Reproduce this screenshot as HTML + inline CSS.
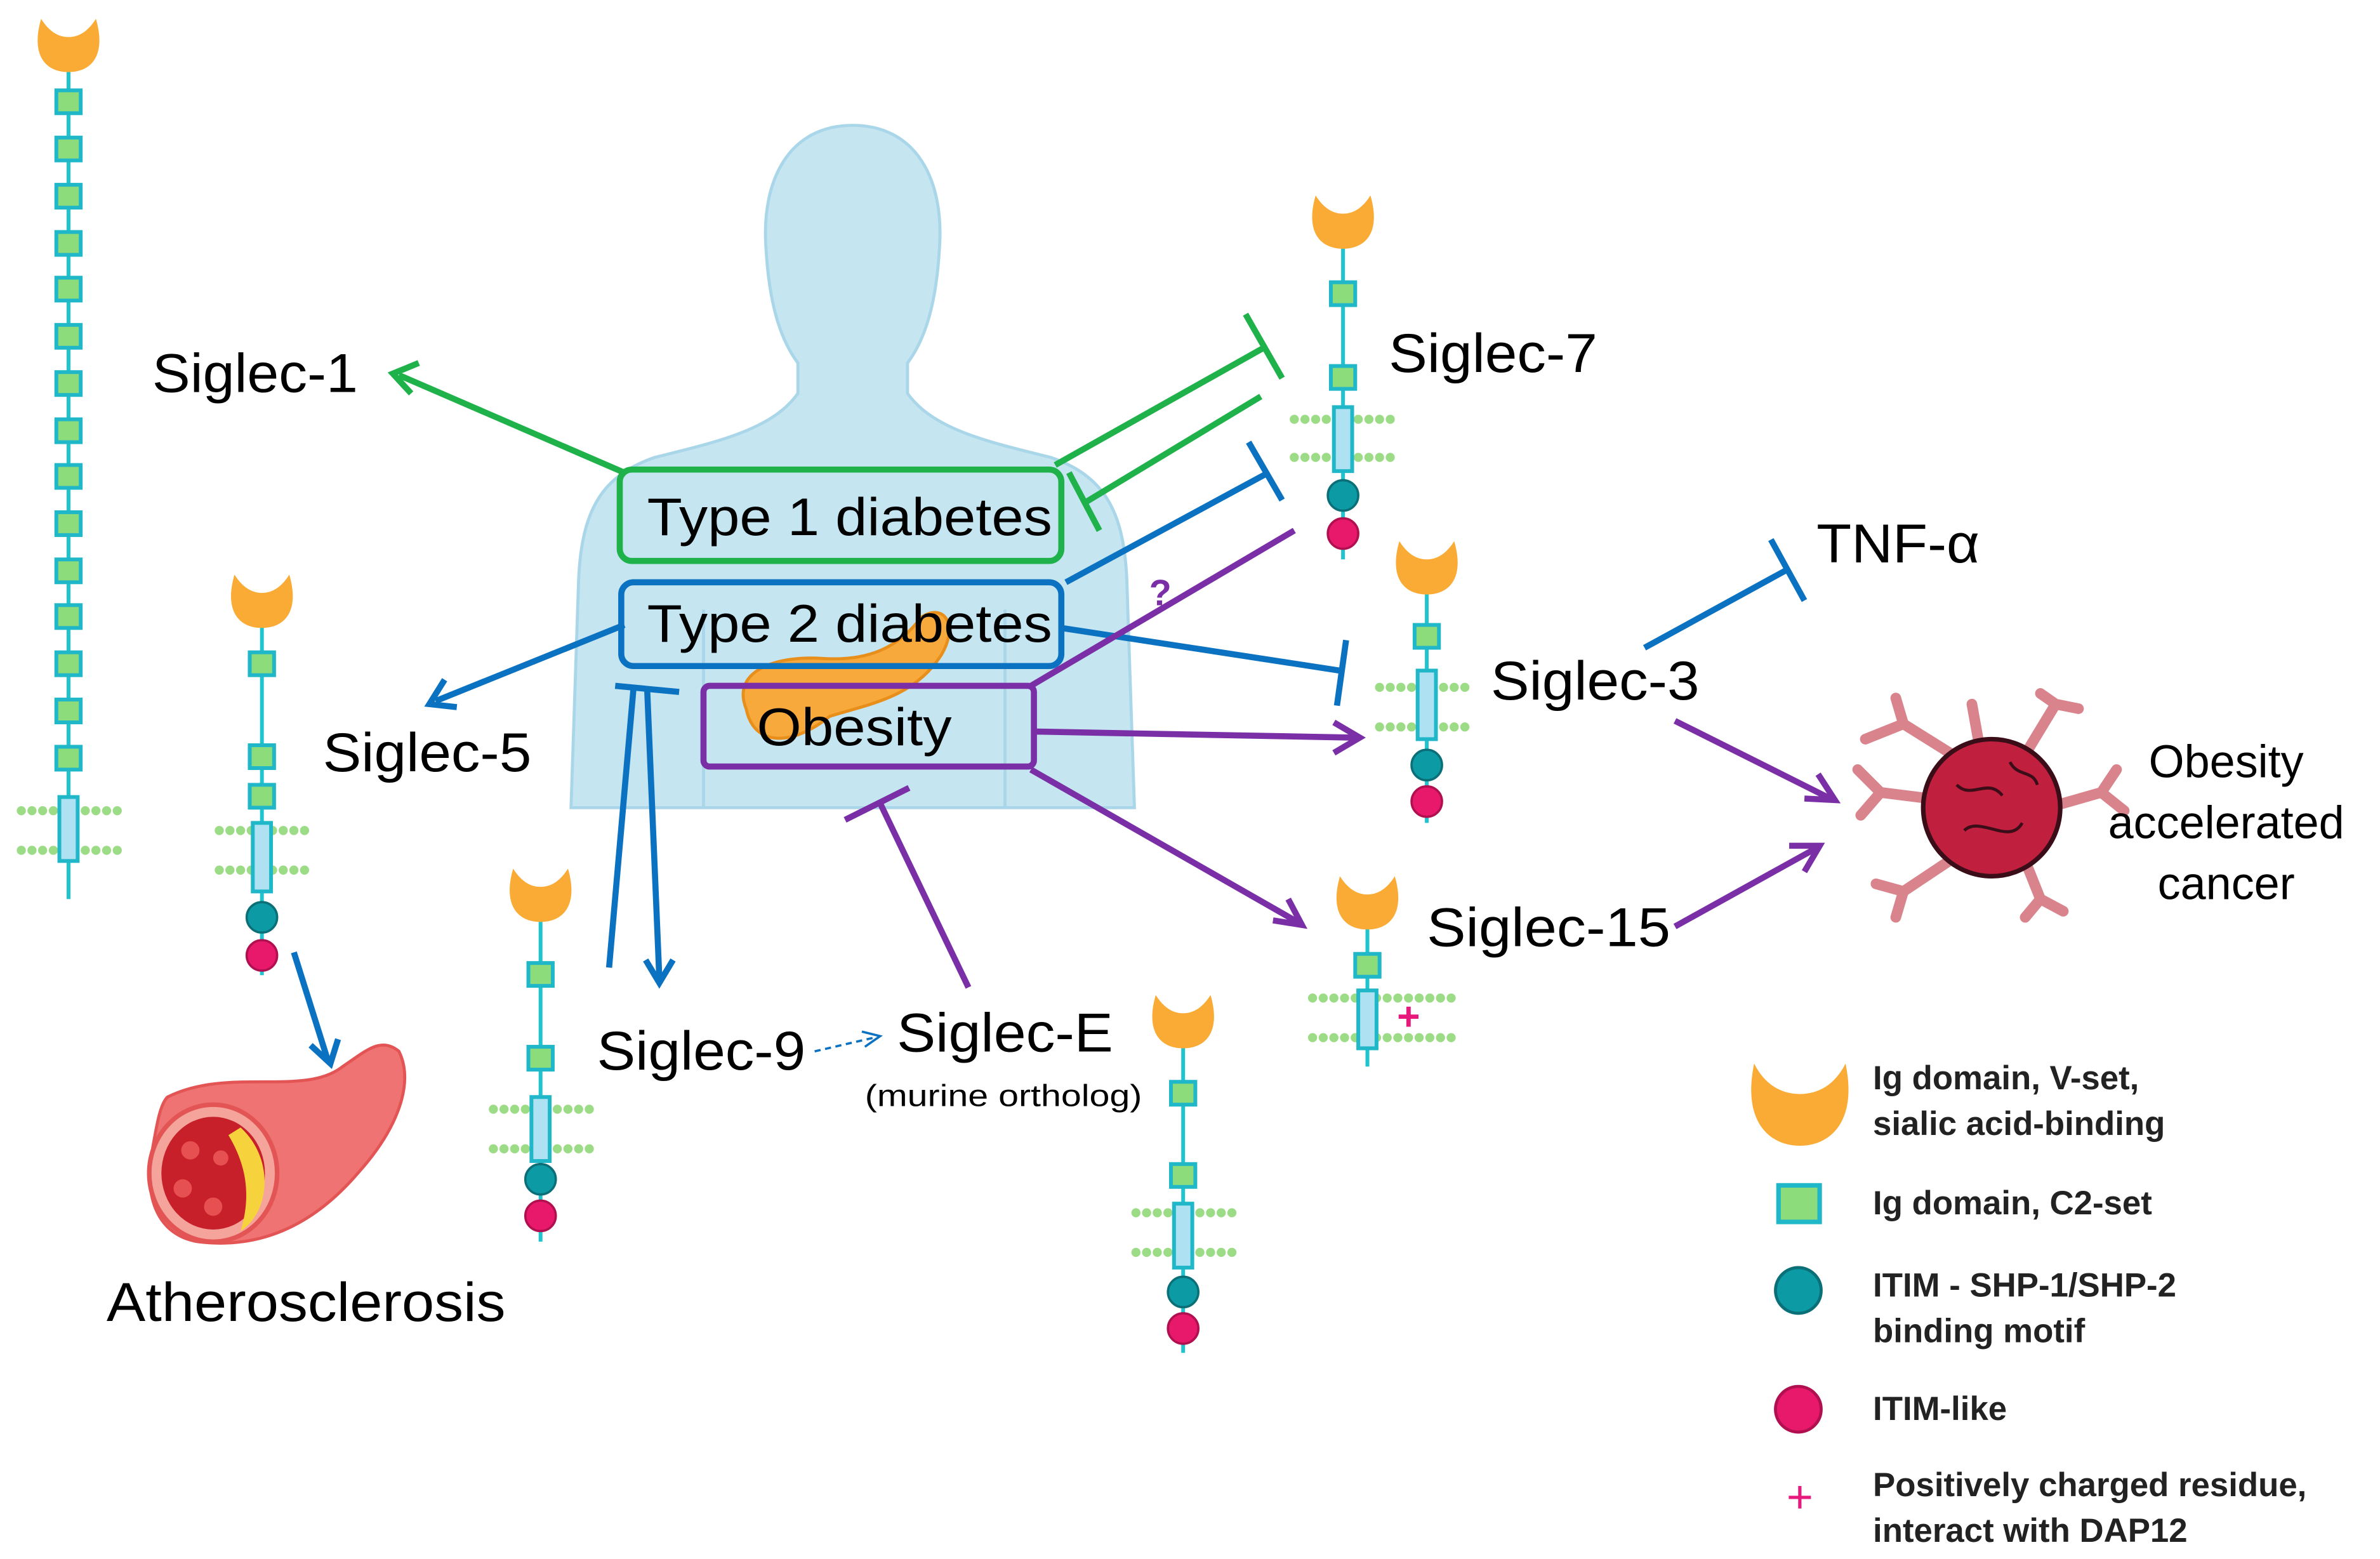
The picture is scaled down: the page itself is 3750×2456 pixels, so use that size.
<!DOCTYPE html>
<html><head><meta charset="utf-8"><style>
html,body{margin:0;padding:0;background:#fff;}
svg{display:block}
text{font-family:"Liberation Sans",sans-serif;}
</style></head><body>
<svg width="3750" height="2456" viewBox="0 0 1563 1023" xmlns="http://www.w3.org/2000/svg">
<!-- body silhouette -->
<path d="M560,82 C518,82 500,118 503,162 C505,198 512,222 524,238 L524,258 C507,282 470,290 430,300 C395,312 382,335 380,380 L375,530 L745,530 L740,380 C738,335 725,312 690,300 C650,290 613,282 596,258 L596,238 C608,222 615,198 617,162 C620,118 602,82 560,82 Z" fill="#c5e5f1" stroke="#a9d6e8" stroke-width="2"/>
<path d="M462,400 L462,530 M660,400 L660,530" stroke="#a9d6e8" stroke-width="2"/>
<!-- pancreas -->
<path d="M490,465 C480,440 510,430 540,432 C570,434 590,425 605,405 C620,395 630,410 618,430 C600,458 570,462 545,470 C520,490 495,490 490,465 Z" fill="#f7a93b" stroke="#e88e1a" stroke-width="2"/>
<!-- boxes -->
<rect x="407" y="308" width="290" height="60" rx="8" fill="none" stroke="#1fb14a" stroke-width="4"/>
<rect x="408" y="382" width="289" height="55" rx="8" fill="none" stroke="#0b72c2" stroke-width="4"/>
<rect x="462" y="450" width="217" height="53" rx="4" fill="none" stroke="#7b2fa6" stroke-width="4"/>
<g font-size="35" text-anchor="middle">
<text x="558" y="351" textLength="266" lengthAdjust="spacingAndGlyphs">Type 1 diabetes</text>
<text x="558" y="421" textLength="266" lengthAdjust="spacingAndGlyphs">Type 2 diabetes</text>
<text x="561" y="489" textLength="128" lengthAdjust="spacingAndGlyphs">Obesity</text>
</g>

<!-- connectors -->
<g fill="none" stroke-width="4">
<g stroke="#1fb14a">
<line x1="410" y1="310" x2="262" y2="246"/><path d="M275,238 L258,245 L270,258"/>
<line x1="693" y1="305" x2="830" y2="228"/><line x1="818" y1="206" x2="842" y2="248"/>
<line x1="712" y1="330" x2="828" y2="260"/><line x1="702" y1="310" x2="722" y2="348"/>
</g>
<g stroke="#0b72c2">
<line x1="700" y1="382" x2="833" y2="310"/><line x1="820" y1="290" x2="842" y2="328"/>
<line x1="697" y1="412" x2="880" y2="440"/><line x1="884" y1="420" x2="878" y2="463"/>
<line x1="410" y1="410" x2="286" y2="460"/><path d="M292,446 L282,462 L300,464"/>
<line x1="400" y1="635" x2="416" y2="452"/><line x1="404" y1="450" x2="446" y2="454"/>
<line x1="425" y1="452" x2="433" y2="642"/><path d="M424,630 L433,645 L442,630"/>
<line x1="1080" y1="425" x2="1175" y2="373"/><line x1="1163" y1="354" x2="1185" y2="394"/>
<line x1="193" y1="625" x2="215" y2="695"/><path d="M204,686 L217,698 L222,682"/>
<line x1="535" y1="690" x2="574" y2="681" stroke-width="1.5" stroke-dasharray="4,3"/><path d="M566,677 L578,680 L568,687" stroke-width="1.5"/>
</g>
<g stroke="#7b2fa6">
<line x1="677" y1="450" x2="850" y2="348"/>
<line x1="679" y1="480" x2="890" y2="484"/><path d="M876,474 L893,484 L876,494"/>
<line x1="677" y1="505" x2="852" y2="605"/><path d="M836,604 L855,607 L846,590"/>
<line x1="636" y1="648" x2="577" y2="525"/><line x1="555" y1="538" x2="597" y2="517"/>
<line x1="1100" y1="473" x2="1202" y2="524"/><path d="M1185,524 L1205,525 L1194,508"/>
<line x1="1100" y1="608" x2="1192" y2="557"/><path d="M1175,555 L1195,555 L1185,572"/>
</g>
</g>
<text x="762" y="397" font-size="24" fill="#7b2fa6" font-weight="bold" text-anchor="middle">?</text>

<!-- receptors -->
<line x1="45" y1="45" x2="45" y2="590" stroke="#20c4cf" stroke-width="2.5"/>
<g stroke="#20c4cf" stroke-width="2.5">
<line x1="172" y1="410" x2="172" y2="640"/>
<line x1="355" y1="600" x2="355" y2="815"/>
<line x1="777" y1="685" x2="777" y2="888"/>
<line x1="882" y1="160" x2="882" y2="367"/>
<line x1="937" y1="385" x2="937" y2="540"/>
<line x1="898" y1="605" x2="898" y2="700"/>
</g>
<g fill="#8cdc7c" stroke="#20b7c8" stroke-width="2.5">
<rect x="37" y="59" width="16" height="15"/><rect x="37" y="90" width="16" height="15"/><rect x="37" y="121" width="16" height="15"/><rect x="37" y="152" width="16" height="15"/><rect x="37" y="182" width="16" height="15"/><rect x="37" y="213" width="16" height="15"/><rect x="37" y="244" width="16" height="15"/><rect x="37" y="275" width="16" height="15"/><rect x="37" y="305" width="16" height="15"/><rect x="37" y="336" width="16" height="15"/><rect x="37" y="367" width="16" height="15"/><rect x="37" y="397" width="16" height="15"/><rect x="37" y="428" width="16" height="15"/><rect x="37" y="459" width="16" height="15"/><rect x="37" y="490" width="16" height="15"/>
<rect x="164" y="428" width="16" height="15"/><rect x="164" y="489" width="16" height="15"/><rect x="164" y="515" width="16" height="15"/>
<rect x="347" y="632" width="16" height="15"/><rect x="347" y="687" width="16" height="15"/>
<rect x="769" y="710" width="16" height="15"/><rect x="769" y="764" width="16" height="15"/>
<rect x="874" y="185" width="16" height="15"/><rect x="874" y="240" width="16" height="15"/>
<rect x="929" y="410" width="16" height="15"/>
<rect x="890" y="626" width="16" height="15"/>
</g>
<!-- membranes -->
<g fill="none" stroke="#9ddc86" stroke-width="6" stroke-dasharray="0,7" stroke-linecap="round">
<path d="M14,532 H78 M14,558 H78"/>
<path d="M144,545 H205 M144,571 H205"/>
<path d="M324,728 H388 M324,754 H388"/>
<path d="M746,796 H810 M746,822 H810"/>
<path d="M850,275 H914 M850,300 H914"/>
<path d="M906,451 H968 M906,477 H968"/>
<path d="M862,655 H955 M862,681 H955"/>
</g>
<g fill="#aee2f3" stroke="#20b7c8" stroke-width="2.5">
<rect x="39" y="523" width="12" height="42"/>
<rect x="166" y="540" width="12" height="45"/>
<rect x="349" y="720" width="12" height="42"/>
<rect x="771" y="790" width="12" height="42"/>
<rect x="876" y="267" width="12" height="42"/>
<rect x="931" y="440" width="12" height="45"/>
<rect x="892" y="650" width="12" height="38"/>
</g>
<text x="925" y="676" font-size="26" fill="#e8197c" text-anchor="middle" font-weight="bold">+</text>
<g fill="#0c9aa5" stroke="#0b6f78" stroke-width="1.5">
<circle cx="172" cy="602" r="10"/><circle cx="355" cy="774" r="10"/><circle cx="777" cy="848" r="10"/><circle cx="882" cy="325" r="10"/><circle cx="937" cy="502" r="10"/>
</g>
<g fill="#e8196b" stroke="#b0104f" stroke-width="1.5">
<circle cx="172" cy="627" r="10"/><circle cx="355" cy="798" r="10"/><circle cx="777" cy="872" r="10"/><circle cx="882" cy="350" r="10"/><circle cx="937" cy="526" r="10"/>
</g>
<!-- heads -->
<g fill="#f9ab35">
<path d="M27,12 C20,36 30,47 45,47 C60,47 70,36 63,12 C58,20 52,24 45,24 C38,24 32,20 27,12 Z"/>
<path d="M154,377 C147,401 157,412 172,412 C187,412 197,401 190,377 C185,385 179,389 172,389 C165,389 159,385 154,377 Z"/>
<path d="M337,570 C330,594 340,605 355,605 C370,605 380,594 373,570 C368,578 362,582 355,582 C348,582 342,578 337,570 Z"/>
<path d="M759,653 C752,677 762,688 777,688 C792,688 802,677 795,653 C790,661 784,665 777,665 C770,665 764,661 759,653 Z"/>
<path d="M864,128 C857,152 867,163 882,163 C897,163 907,152 900,128 C895,136 889,140 882,140 C875,140 869,136 864,128 Z"/>
<path d="M919,355 C912,379 922,390 937,390 C952,390 962,379 955,355 C950,363 944,367 937,367 C930,367 924,363 919,355 Z"/>
<path d="M880,575 C873,599 883,610 898,610 C913,610 923,599 916,575 C911,583 905,587 898,587 C891,587 885,583 880,575 Z"/>
</g>

<!-- artery -->
<path d="M110,720 C150,700 200,720 225,700 C240,690 250,680 262,690 C272,710 262,740 235,770 C205,805 170,820 130,815 C100,810 95,780 100,755 C103,738 105,725 110,720 Z" fill="#f07373" stroke="#e35555" stroke-width="2"/>
<ellipse cx="140" cy="770" rx="42" ry="45" fill="#f4a49a" stroke="#e35555" stroke-width="3"/>
<ellipse cx="140" cy="770" rx="34" ry="37" fill="#c8202a"/>
<path d="M158,740 C180,760 178,795 158,808 C165,785 162,765 150,745 Z" fill="#f6d23c"/>
<g fill="#e65050"><circle cx="125" cy="755" r="6"/><circle cx="120" cy="780" r="6"/><circle cx="140" cy="792" r="6"/><circle cx="145" cy="760" r="5"/></g>
<!-- cancer cell -->
<g stroke="#d9848c" stroke-width="7" fill="none" stroke-linecap="round">
<path d="M1290,500 L1250,475 M1250,475 L1225,485 M1250,475 L1245,458"/>
<path d="M1330,495 L1350,462 M1350,462 L1340,455 M1350,462 L1365,465"/>
<path d="M1345,530 L1380,520 M1380,520 L1390,505 M1380,520 L1395,532"/>
<path d="M1330,565 L1340,590 M1340,590 L1330,602 M1340,590 L1355,598"/>
<path d="M1280,565 L1250,585 M1250,585 L1245,602 M1250,585 L1232,580"/>
<path d="M1275,525 L1235,520 M1235,520 L1220,505 M1235,520 L1222,535"/>
<path d="M1300,490 L1295,462"/>
</g>
<circle cx="1308" cy="530" r="45" fill="#c0203e" stroke="#3a0d18" stroke-width="3"/>
<g fill="none" stroke="#3a0d18" stroke-width="2"><path d="M1285,515 C1295,525 1305,510 1315,522"/><path d="M1290,545 C1300,535 1320,555 1328,540"/><path d="M1320,500 C1325,510 1335,505 1338,515"/></g>

<!-- labels -->
<g font-size="36">
<text x="100" y="257" textLength="135" lengthAdjust="spacingAndGlyphs">Siglec-1</text>
<text x="912" y="244" textLength="137" lengthAdjust="spacingAndGlyphs">Siglec-7</text>
<text x="1193" y="369" textLength="107" lengthAdjust="spacingAndGlyphs">TNF-α</text>
<text x="979" y="459" textLength="137" lengthAdjust="spacingAndGlyphs">Siglec-3</text>
<text x="212" y="506" textLength="137" lengthAdjust="spacingAndGlyphs">Siglec-5</text>
<text x="937" y="621" textLength="160" lengthAdjust="spacingAndGlyphs">Siglec-15</text>
<text x="392" y="702" textLength="137" lengthAdjust="spacingAndGlyphs">Siglec-9</text>
<text x="589" y="690" textLength="142" lengthAdjust="spacingAndGlyphs">Siglec-E</text>
<text x="70" y="867" textLength="262" lengthAdjust="spacingAndGlyphs">Atherosclerosis</text>
</g>
<text x="568" y="726" font-size="20" textLength="182" lengthAdjust="spacingAndGlyphs">(murine ortholog)</text>
<g font-size="30" text-anchor="middle"><text x="1462" y="510">Obesity</text><text x="1462" y="550">accelerated</text><text x="1462" y="590">cancer</text></g>

<!-- legend -->
<path d="M1152,698 C1144,736 1162,752 1182,752 C1202,752 1220,736 1212,698 C1205,712 1194,718 1182,718 C1170,718 1159,712 1152,698 Z" fill="#f9ab35"/>
<rect x="1168" y="778" width="27" height="24" fill="#8cdc7c" stroke="#20b7c8" stroke-width="3"/>
<circle cx="1181" cy="847" r="15" fill="#0c9aa5" stroke="#0b6f78" stroke-width="2"/>
<circle cx="1181" cy="925" r="15" fill="#e8196b" stroke="#b0104f" stroke-width="2"/>
<text x="1182" y="993" font-size="30" fill="#e8197c" text-anchor="middle">+</text>
<g font-size="22" font-weight="bold" fill="#222">
<text x="1230" y="715">Ig domain,  V-set,</text>
<text x="1230" y="745">sialic acid-binding</text>
<text x="1230" y="797">Ig domain,  C2-set</text>
<text x="1230" y="851">ITIM - SHP-1/SHP-2</text>
<text x="1230" y="881">binding motif</text>
<text x="1230" y="932">ITIM-like</text>
<text x="1230" y="982">Positively charged residue,</text>
<text x="1230" y="1012">interact with DAP12</text>
</g>
</svg>
</body></html>
